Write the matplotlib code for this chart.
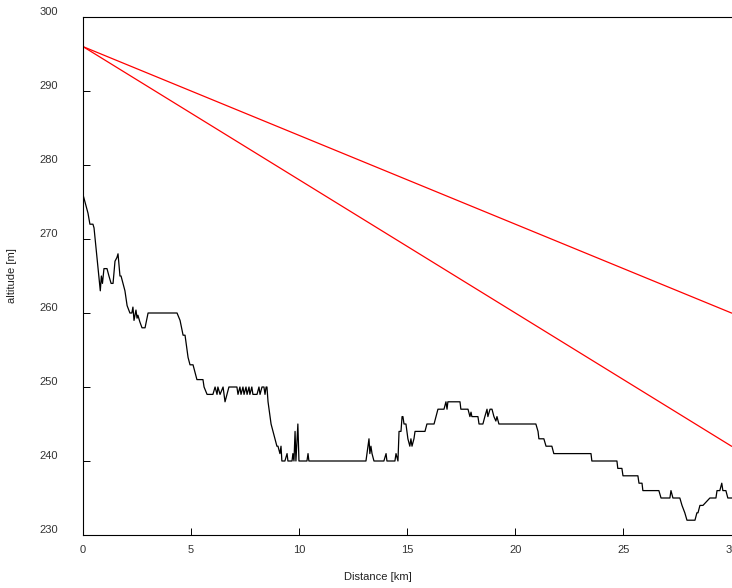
import numpy as np
import matplotlib
matplotlib.use("Agg")
import matplotlib.pyplot as plt
from matplotlib.transforms import ScaledTranslation

# elevation profile along the route
dist_km = [
    0.00, 0.23, 0.32, 0.46, 0.51, 0.80, 0.85, 0.90, 0.97, 1.11, 1.20, 1.30, 1.39,
    1.48, 1.57, 1.62, 1.71, 1.76, 1.94, 2.04, 2.17, 2.26, 2.31, 2.36, 2.45, 2.50,
    2.54, 2.63, 2.73, 2.87, 3.01, 4.35, 4.49, 4.63, 4.72, 4.86, 4.95, 5.09, 5.27,
    5.55, 5.60, 5.74, 6.01, 6.11, 6.20, 6.24, 6.34, 6.48, 6.57, 6.66, 6.75, 7.12,
    7.17, 7.26, 7.31, 7.40, 7.45, 7.54, 7.59, 7.68, 7.72, 7.81, 7.86, 8.05, 8.14,
    8.19, 8.28, 8.37, 8.42, 8.47, 8.51, 8.56, 8.70, 8.79, 8.88, 8.97, 9.02, 9.11,
    9.16, 9.20, 9.34, 9.44, 9.48, 9.67, 9.71, 9.76, 9.81, 9.85, 9.94, 9.99,
    10.36, 10.41, 10.45, 13.09, 13.18, 13.23, 13.27, 13.32, 13.37, 13.46, 13.92,
    14.02, 14.06, 14.43, 14.48, 14.57, 14.62, 14.71, 14.76, 14.80, 14.85, 14.94,
    15.03, 15.12, 15.17, 15.22, 15.31, 15.36, 15.45, 15.82, 15.91, 16.24, 16.33,
    16.42, 16.70, 16.79, 16.84, 16.88, 17.44, 17.48, 17.81, 17.90, 17.95, 17.99,
    18.27, 18.32, 18.50, 18.59, 18.69, 18.73, 18.83, 18.92, 19.01, 19.10, 19.15,
    19.24, 20.95, 21.05, 21.09, 21.32, 21.42, 21.69, 21.78, 23.50, 23.54, 24.70,
    24.74, 24.93, 24.98, 25.67, 25.72, 25.86, 25.90, 26.64, 26.74, 27.15, 27.20,
    27.29, 27.61, 27.71, 27.84, 27.94, 28.31, 28.40, 28.45, 28.54, 28.68, 29.00,
    29.28, 29.33, 29.46, 29.55, 29.60, 29.74, 29.83, 30.00,
]
alt_m = [
    276, 273.5, 272, 272, 271.5, 263, 265, 264, 266, 266, 265, 264, 264,
    267, 267.5, 268, 265, 265, 263, 261, 260, 260, 260.8, 259, 260.4, 259.3,
    259.7, 258.8, 258, 258, 260, 260, 259, 257, 257, 254, 253, 253, 251,
    251, 250, 249, 249, 250, 249, 250, 249, 250, 248, 249, 250, 250,
    249, 250, 249, 250, 249, 250, 249, 250, 249, 250, 249, 249, 250,
    249, 250, 250, 249, 250, 250, 248, 245, 244, 243, 242, 242, 241,
    242, 240, 240, 241, 240, 240, 241, 240, 244, 240, 245, 240,
    240, 241, 240, 240, 242, 243, 241, 242, 241, 240, 240,
    241, 240, 240, 241, 240, 244, 244, 246, 246, 245, 245,
    243, 242, 243, 242, 243, 244, 244, 244, 245, 245, 246,
    247, 247, 248, 247, 248, 248, 247, 247, 246, 246.6, 246,
    246, 245, 245, 246, 247, 246, 247, 247, 246, 245.4, 246,
    245, 245, 244, 243, 243, 242, 242, 241, 241, 240, 240,
    239, 239, 238, 238, 237, 237, 236, 236, 235, 235, 236,
    235, 235, 234, 233, 232, 232, 233, 233, 234, 234, 235,
    235, 236, 236, 237, 236, 236, 235, 235,
]

# straight sight lines from the start point
line_start = [0, 296]
line_end_a = [30, 260]
line_end_b = [30, 242]

x_ticks = [0, 5, 10, 15, 20, 25, 30]
y_ticks = [230, 240, 250, 260, 270, 280, 290, 300]

plt.rcParams["font.family"] = ["Liberation Sans", "DejaVu Sans"]

fig = plt.figure(figsize=(7.32, 5.88), dpi=100)
ax = fig.add_axes([83 / 732, 53 / 588, 648.5 / 732, 518 / 588])

ax.plot(dist_km, alt_m, color="black", lw=0.9)
ax.plot([line_start[0], line_end_a[0]], [line_start[1], line_end_a[1]], color="red", lw=0.9)
ax.plot([line_start[0], line_end_b[0]], [line_start[1], line_end_b[1]], color="red", lw=0.9)

ax.set_xlim(0, 30)
ax.set_ylim(230, 300)
ax.set_xticks(x_ticks)
ax.set_yticks(y_ticks)
ax.tick_params(direction="in", length=5, width=0.7, labelsize=8,
               labelcolor="#333333", top=False, right=False)
ax.tick_params(axis="y", pad=18)
ax.tick_params(axis="x", pad=7)
for lbl in ax.get_yticklabels():
    lbl.set_transform(lbl.get_transform() + ScaledTranslation(0, 4 / 72, fig.dpi_scale_trans))

for side in ("left", "bottom", "top"):
    ax.spines[side].set_linewidth(0.8)
ax.spines["right"].set_visible(False)

ax.set_xlabel("Distance [km]", fontsize=8, color="#222222")
ax.set_ylabel("altitude [m]", fontsize=8, color="#222222")
ax.xaxis.set_label_coords(0.455, -0.072)
ax.yaxis.set_label_coords(-0.102, 0.5)

fig.savefig("out.png", dpi=100)
